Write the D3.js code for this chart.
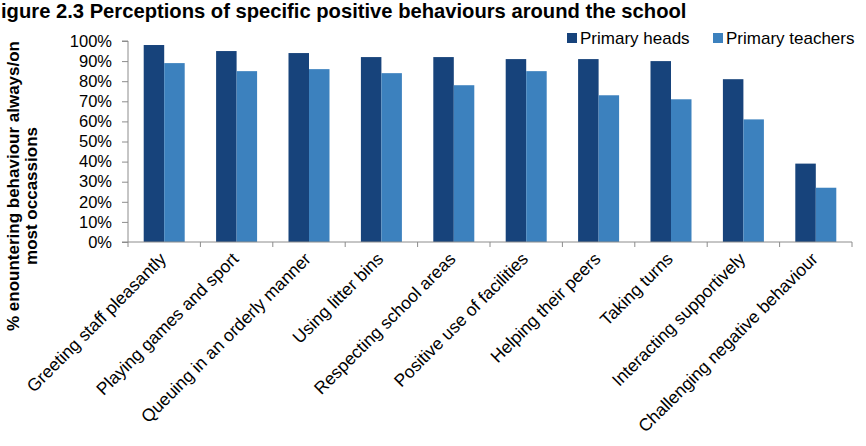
<!DOCTYPE html>
<html>
<head>
<meta charset="utf-8">
<script src="https://cdn.jsdelivr.net/npm/d3@7"></script>
<style>
  html, body { margin: 0; padding: 0; background: #fff; }
  svg { display: block; font-family: "Liberation Sans", Arial, sans-serif; }
</style>
</head>
<body>
<svg id="chart" width="866" height="446"></svg>
<script>
const categories = [
  "Greeting staff pleasantly",
  "Playing games and sport",
  "Queuing in an orderly manner",
  "Using litter bins",
  "Respecting school areas",
  "Positive use of facilities",
  "Helping their peers",
  "Taking turns",
  "Interacting supportively",
  "Challenging negative behaviour"
];
const seriesNames = ["Primary heads", "Primary teachers"];
const primaryHeads    = [98, 95, 94, 92, 92, 91, 91, 90, 81, 39];
const primaryTeachers = [89, 85, 86, 84, 78, 85, 73, 71, 61, 27];
const yTicks = [0, 10, 20, 30, 40, 50, 60, 70, 80, 90, 100];
// The reference image crops the title's first letter; the visible text is reproduced.
const titleText = "igure 2.3 Perceptions of specific positive behaviours around the school";
const yTitleLines = ["% enountering behaviour always/on", "most occassions"];
const colors = ["#17437b", "#3c81be"];

const seriesValues = [primaryHeads, primaryTeachers];
const data = categories.map((c, i) => ({
  cat: c,
  vals: seriesNames.map((s, j) => ({ key: s, value: seriesValues[j][i], idx: j }))
}));

const svg = d3.select("#chart");
const pLeft = 128, pRight = 852, pTop = 41, pBottom = 242;
const axisColor = "#8c8c8c";

const x = d3.scaleBand().domain(categories).range([pLeft, pRight]).paddingInner(0).paddingOuter(0);
const x1 = d3.scaleBand().domain(seriesNames).range([0, x.bandwidth()]).paddingInner(0).paddingOuter(0.766);
const y = d3.scaleLinear().domain([0, 100]).range([pBottom, pTop]);

// Title
svg.append("text")
  .attr("x", 1).attr("y", 17.5)
  .attr("font-size", 20.2).attr("font-weight", "bold").attr("fill", "#000")
  .text(titleText);

// Bars
const groups = svg.append("g").selectAll("g").data(data).join("g")
  .attr("transform", d => `translate(${x(d.cat)},0)`);
groups.selectAll("rect").data(d => d.vals).join("rect")
  .attr("x", d => x1(d.key))
  .attr("width", x1.bandwidth())
  .attr("y", d => y(d.value))
  .attr("height", d => y(0) - y(d.value))
  .attr("fill", d => colors[d.idx]);

// Y axis
const yAxis = d3.axisLeft(y).tickValues(yTicks).tickSize(6).tickPadding(10)
  .tickFormat(d => d + "%");
const gy = svg.append("g").attr("transform", `translate(${pLeft},0)`).call(yAxis);
gy.select(".domain").attr("stroke", axisColor).attr("d", `M-6,${pTop}H0V${pBottom}H-6`);
gy.selectAll(".tick line").attr("stroke", axisColor);
gy.selectAll(".tick text").attr("font-size", 16.5).attr("fill", "#000")
  .attr("font-family", '"Liberation Sans", Arial, sans-serif');

// X axis line + ticks at band boundaries
const boundaries = categories.map(c => x(c)).concat([pRight]);
const gx = svg.append("g");
gx.append("line").attr("x1", pLeft).attr("x2", pRight).attr("y1", pBottom).attr("y2", pBottom)
  .attr("stroke", axisColor);
gx.selectAll("line.tk").data(boundaries).join("line").attr("class", "tk")
  .attr("x1", d => d).attr("x2", d => d).attr("y1", pBottom).attr("y2", pBottom + 5)
  .attr("stroke", axisColor);

// X labels rotated
svg.append("g").selectAll("text").data(categories).join("text")
  .attr("transform", d => `translate(${x(d) + x.bandwidth() / 2 + 3},${pBottom + 18}) rotate(-45)`)
  .attr("text-anchor", "end")
  .attr("font-size", 17.5).attr("fill", "#000")
  .text(d => d);

// Y axis title
const yTitlePos = [{ xx: 19, yy: 186 }, { xx: 37, yy: 196 }];
svg.append("g").selectAll("text").data(yTitleLines).join("text")
  .attr("transform", (d, i) => `translate(${yTitlePos[i].xx},${yTitlePos[i].yy}) rotate(-90)`)
  .attr("text-anchor", "middle")
  .attr("font-size", 17).attr("font-weight", "bold").attr("fill", "#000")
  .text(d => d);

// Legend
const legendX = [567, 713];
const lg = svg.append("g").selectAll("g").data(seriesNames).join("g")
  .attr("transform", (d, i) => `translate(${legendX[i]},33)`);
lg.append("rect").attr("width", 10).attr("height", 10).attr("fill", (d, i) => colors[i]);
lg.append("text").attr("x", 13).attr("y", 11).attr("font-size", 17).attr("fill", "#000").text(d => d);
</script>
</body>
</html>
